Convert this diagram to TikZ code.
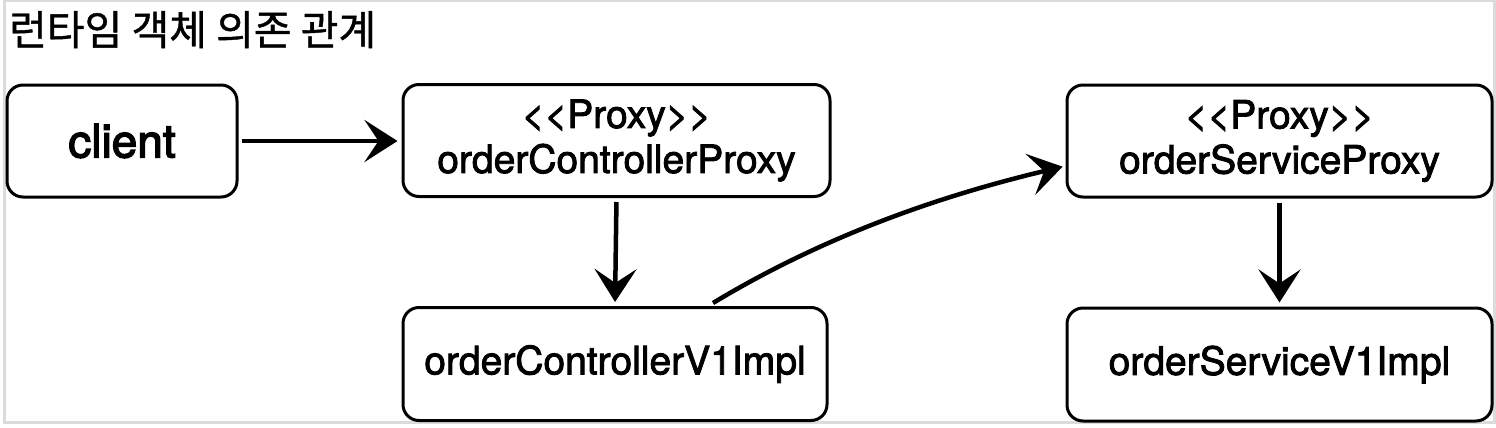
\documentclass[tikz,border=0pt]{standalone}
\usepackage{fontspec}
\setmainfont{TeX Gyre Heros}
\newfontfamily\boxfont[FakeBold=2.2]{TeX Gyre Heros}
\newfontfamily\clientfont[FakeBold=3]{TeX Gyre Heros}
\newfontfamily\krfont[FakeBold=1]{Noto Sans CJK KR}
\usetikzlibrary{arrows.meta,calc}
\begin{document}
\begin{tikzpicture}[x=1pt,y=-1pt,
  box/.style={draw=black,line width=3pt,rounded corners=16pt,fill=white,
    inner sep=0pt,align=center,font=\boxfont\fontsize{39}{45}\selectfont},
  conn/.style={line width=4.5pt,draw=black,
    -{Stealth[length=33pt,width=42pt,inset=14pt]}}]
\useasboundingbox (0,0) rectangle (1496,428);
\fill[white] (0,0) rectangle (1496,428);
\draw[line width=3pt,draw=black!14] (4.5,1) rectangle (1494.5,422);
\node[anchor=base west,inner sep=0pt,font=\krfont\fontsize{41}{44}\selectfont] (title) at (9,45) {런타임 객체 의존 관계};
\node[box,minimum width=230pt,minimum height=112pt,font=\clientfont\fontsize{46}{50}\selectfont] (client) at (122,141) {client};
\node[box,minimum width=427pt,minimum height=112pt] (cproxy) at (616.5,140.5) {<{}<Proxy>{}>\\orderControllerProxy};
\node[box,minimum width=424pt,minimum height=113pt] (cimpl) at (615,364) {orderControllerV1Impl};
\node[box,minimum width=425pt,minimum height=112pt] (sproxy) at (1279.5,141) {<{}<Proxy>{}>\\orderServiceProxy};
\node[box,minimum width=425pt,minimum height=113pt] (simpl) at (1279.5,364.5) {orderServiceV1Impl};
\draw[conn,shorten <=3pt,shorten >=4pt] (client.east) -- (cproxy.west |- client.east);
\draw[conn,shorten <=4pt,shorten >=4pt] (cproxy.south) -- (cimpl.north);
\draw[conn,shorten <=4pt,shorten >=4pt] (sproxy.south) -- (simpl.north);
\draw[conn,shorten >=3pt] ($(cimpl.north)+(98,-3)$) .. controls +(111,-67) and +(-126,30) .. ($(sproxy.west)+(0,25)$);
\end{tikzpicture}
\end{document}
